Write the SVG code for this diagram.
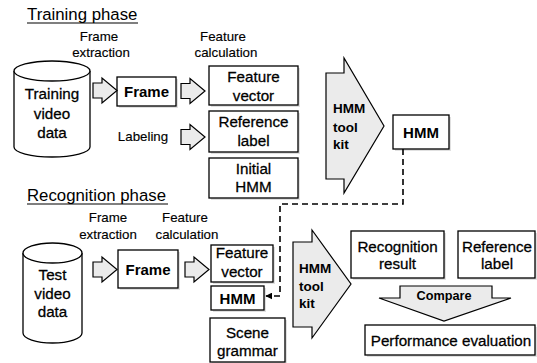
<svg xmlns="http://www.w3.org/2000/svg" width="537" height="363" viewBox="0 0 537 363">
<defs>
<style>
text{font-family:"Liberation Sans",Arial,sans-serif;fill:#000}
.t{font-size:16.8px}
.s{font-size:13.3px;stroke:#000;stroke-width:0.15}
.m{font-size:15.2px;stroke:#000;stroke-width:0.28}
.b{font-size:15px;font-weight:bold}
.k{font-size:13.5px;font-weight:bold}
.c{text-anchor:middle}
.box{fill:#fff;stroke:#000;stroke-width:1.3}
.sh{fill:#e0e0e0}
.arr{fill:#ebebeb;stroke:#000;stroke-width:1.2;stroke-linejoin:miter}
.ul{stroke:#000;stroke-width:1.2}
.dash{fill:none;stroke:#000;stroke-width:1.6;stroke-dasharray:6,4}
</style>
<path id="sa" d="M0,-7.5 H9 V-12.5 L24,0 L9,12.5 V7.5 H0 Z"/>
<marker id="ah" viewBox="0 0 10 10" refX="9" refY="5" markerWidth="7" markerHeight="7" orient="auto" markerUnits="userSpaceOnUse">
<path d="M0,0 L10,5 L0,10 Z" fill="#000"/>
</marker>
</defs>

<g id="training-title">
<text class="t" x="27" y="20">Training phase</text>
<line class="ul" x1="27" y1="23" x2="138" y2="23"/>
</g>
<g id="training-labels">
<text class="s c" x="99" y="41">Frame</text>
<text class="s c" x="101" y="57">extraction</text>
<text class="s c" x="223" y="41">Feature</text>
<text class="s c" x="226" y="57">calculation</text>
<text class="s c" x="143" y="141">Labeling</text>
</g>

<g id="training-video-data">
<path d="M14,71 V147 A38,10 0 0 0 90,147 V71" fill="#fff" stroke="#000" stroke-width="1.3"/>
<ellipse cx="52" cy="71" rx="38" ry="10" fill="#fff" stroke="#000" stroke-width="1.3"/>
<text class="m c" x="52" y="99">Training</text>
<text class="m c" x="52" y="119">video</text>
<text class="m c" x="52" y="138">data</text>
</g>

<g id="training-frame">
<rect class="sh" x="119" y="79" width="59" height="29"/>
<rect class="box" x="117" y="77" width="59" height="29"/>
<text class="b c" x="146.5" y="97">Frame</text>
</g>

<g id="training-feature-vector">
<rect class="sh" x="211" y="68" width="89" height="39"/>
<rect class="box" x="209" y="66" width="89" height="39"/>
<text class="m c" x="253.5" y="82">Feature</text>
<text class="m c" x="253.5" y="101">vector</text>
</g>
<g id="training-reference-label">
<rect class="sh" x="211" y="113" width="89" height="41"/>
<rect class="box" x="209" y="111" width="89" height="41"/>
<text class="m c" x="253.5" y="127">Reference</text>
<text class="m c" x="253.5" y="146">label</text>
</g>
<g id="training-initial-hmm">
<rect class="sh" x="211" y="160" width="89" height="40"/>
<rect class="box" x="209" y="158" width="89" height="40"/>
<text class="m c" x="253.5" y="174">Initial</text>
<text class="m c" x="253.5" y="192">HMM</text>
</g>

<g id="training-hmm-toolkit">
<path class="arr" d="M326,73 H344 V58 L384,126 L344,193 V179 H326 Z"/>
<text class="k" x="333" y="113">HMM</text>
<text class="k" x="333" y="132">tool</text>
<text class="k" x="333" y="149">kit</text>
</g>

<g id="training-hmm">
<rect class="sh" x="395" y="117" width="56" height="34"/>
<rect class="box" x="393" y="115" width="56" height="34"/>
<text class="b c" x="421" y="138">HMM</text>
</g>

<g id="recognition-title">
<text class="t" x="27" y="201">Recognition phase</text>
<line class="ul" x1="27" y1="204" x2="168" y2="204"/>
</g>
<g id="recognition-labels">
<text class="s c" x="108" y="222">Frame</text>
<text class="s c" x="108" y="239">extraction</text>
<text class="s c" x="185" y="222">Feature</text>
<text class="s c" x="187" y="239">calculation</text>
</g>

<g id="test-video-data">
<path d="M23,253 V333 A29.5,10 0 0 0 82,333 V253" fill="#fff" stroke="#000" stroke-width="1.3"/>
<ellipse cx="52.5" cy="253" rx="29.5" ry="10" fill="#fff" stroke="#000" stroke-width="1.3"/>
<text class="m c" x="52.5" y="280">Test</text>
<text class="m c" x="52.5" y="299">video</text>
<text class="m c" x="52.5" y="317">data</text>
</g>

<g id="recognition-frame">
<rect class="sh" x="120" y="252" width="60" height="38"/>
<rect class="box" x="118" y="250" width="60" height="38"/>
<text class="b c" x="148" y="275">Frame</text>
</g>

<g id="recognition-feature-vector">
<rect class="sh" x="213" y="247" width="62" height="37"/>
<rect class="box" x="211" y="245" width="62" height="37"/>
<text class="m c" x="242" y="258">Feature</text>
<text class="m c" x="242" y="277">vector</text>
</g>
<g id="recognition-hmm">
<rect class="sh" x="213" y="288" width="53" height="24"/>
<rect class="box" x="211" y="286" width="53" height="24"/>
<text class="b c" x="237.5" y="304">HMM</text>
</g>
<g id="scene-grammar">
<rect class="sh" x="212" y="320" width="75" height="44"/>
<rect class="box" x="210" y="318" width="75" height="44"/>
<text class="m c" x="247.5" y="338">Scene</text>
<text class="m c" x="247.5" y="356">grammar</text>
</g>

<g id="recognition-hmm-toolkit">
<path class="arr" d="M293,242 H312 V230 L351,284 L312,338 V327 H293 Z"/>
<text class="k" x="299" y="273">HMM</text>
<text class="k" x="299" y="291">tool</text>
<text class="k" x="299" y="308">kit</text>
</g>

<g id="recognition-result">
<rect class="sh" x="353" y="233" width="93" height="47"/>
<rect class="box" x="351" y="231" width="93" height="47"/>
<text class="m c" x="397.5" y="252">Recognition</text>
<text class="m c" x="397.5" y="269">result</text>
</g>
<g id="recognition-reference-label">
<rect class="sh" x="460" y="233" width="77" height="47"/>
<rect class="box" x="458" y="231" width="77" height="47"/>
<text class="m c" x="497" y="252">Reference</text>
<text class="m c" x="497" y="269">label</text>
</g>

<g id="compare">
<path class="arr" d="M400,286 H492 V298 H511 L444,321 L379,298 H400 Z"/>
<text class="c" x="444" y="300" style="font-size:12.7px;font-weight:bold">Compare</text>
</g>

<g id="performance-evaluation">
<rect class="sh" x="367" y="327" width="170" height="30"/>
<rect class="box" x="365" y="325" width="170" height="30"/>
<text class="m c" x="451" y="346">Performance evaluation</text>
</g>

<g id="connectors">
<use href="#sa" class="arr" transform="translate(93,90.5)"/>
<use href="#sa" class="arr" transform="translate(181,91)"/>
<use href="#sa" class="arr" transform="translate(181,137)"/>
<use href="#sa" class="arr" transform="translate(93,269.5)"/>
<use href="#sa" class="arr" transform="translate(185,269.5)"/>
<path class="dash" d="M403,149 V204 H280 V296 H266" marker-end="url(#ah)"/>
</g>
</svg>
